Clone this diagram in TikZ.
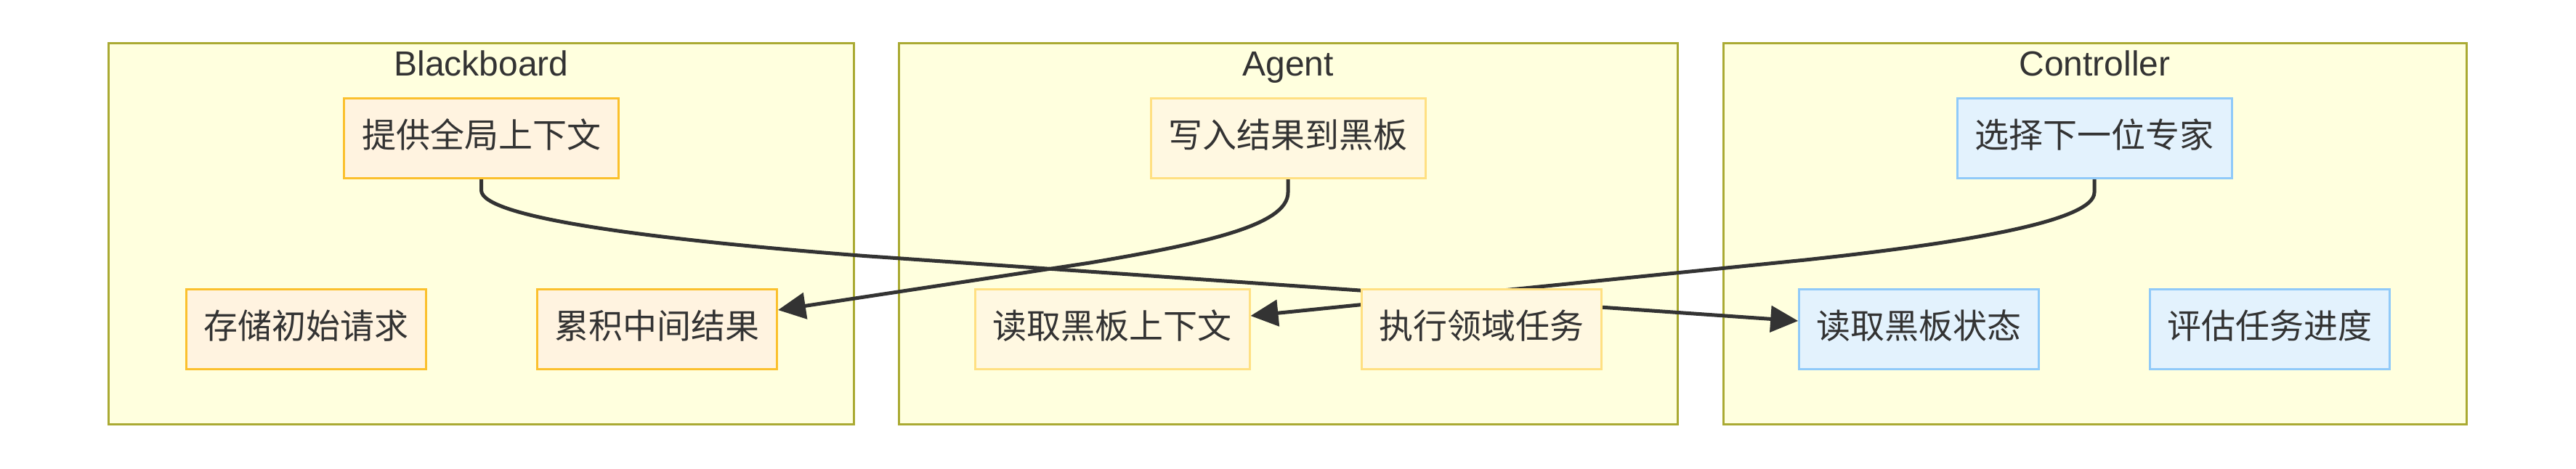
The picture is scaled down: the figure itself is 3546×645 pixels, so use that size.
\documentclass[tikz,border=0pt]{standalone}
\usepackage{fontspec}
\setmainfont{Liberation Sans}
\newfontfamily\cjk{Noto Sans CJK SC}
\usetikzlibrary{arrows.meta}
\pgfdeclarelayer{bg}
\pgfdeclarelayer{edges}
\pgfsetlayers{bg,edges,main}
\definecolor{txt}{HTML}{333333}
\definecolor{frameline}{HTML}{AAAA33}
\definecolor{framefill}{HTML}{FFFFDE}
\definecolor{bbline}{HTML}{FBC02D}
\definecolor{bbfill}{HTML}{FFF3E0}
\definecolor{agline}{HTML}{FFE082}
\definecolor{agfill}{HTML}{FFF8E1}
\definecolor{ctline}{HTML}{90CAF9}
\definecolor{ctfill}{HTML}{E3F2FD}
\begin{document}
\begin{tikzpicture}[x=0.5pt,y=-0.5pt,
  frame/.style={draw=frameline, fill=framefill, line width=1.5pt, minimum width=#1, minimum height=262.4pt, inner sep=0pt},
  title/.style={font=\fontsize{24pt}{28pt}\selectfont, text=txt, inner sep=0pt, anchor=base},
  box/.style={line width=1.5pt, minimum height=55pt, inner sep=0pt, font=\cjk\fontsize{23.5pt}{28pt}\selectfont, text=txt, text height=18pt, text depth=5.14pt},
  wide/.style={minimum width=189pt},
  narrow/.style={minimum width=165pt},
  bbbox/.style={box, draw=bbline, fill=bbfill},
  agbox/.style={box, draw=agline, fill=agfill},
  ctbox/.style={box, draw=ctline, fill=ctfill},
  conn/.style={draw=txt, line width=2.5pt, line join=round, -{Triangle[length=19pt,width=18pt]}}
]
\useasboundingbox (0,0) rectangle (3546,645);
\begin{pgfonlayer}{bg}
  \node[frame=512.6pt] (fbb) at (662.4,322.2) {};
  \node[frame=536pt] (fag) at (1773,322.2) {};
  \node[frame=511.5pt] (fct) at (2883.5,322.2) {};
\end{pgfonlayer}
\node[title] (tbb) at (662.5,104) {Blackboard};
\node[title] (tag) at (1773,104) {Agent};
\node[title] (tct) at (2883.5,104) {Controller};

\node[bbbox, wide]   (bb1) at (662.5,190.5) {提供全局上下文};
\node[bbbox, narrow] (bb2) at (421,453.5) {存储初始请求};
\node[bbbox, narrow] (bb3) at (904.5,453.5) {累积中间结果};

\node[agbox, wide]   (ag1) at (1773,190.5) {写入结果到黑板};
\node[agbox, wide]   (ag2) at (1531,453.5) {读取黑板上下文};
\node[agbox, narrow] (ag3) at (2039,453.5) {执行领域任务};

\node[ctbox, wide]   (ct1) at (2883,190.5) {选择下一位专家};
\node[ctbox, narrow] (ct2) at (2641.7,453.5) {读取黑板状态};
\node[ctbox, narrow] (ct3) at (3124.7,453.5) {评估任务进度};

\begin{pgfonlayer}{edges}
  \draw[conn] (bb1.south) -- (662.5,262) .. controls (662.5,300) and (900,330) .. (1190,352.5) -- ([yshift=5.75pt]ct2.west);
  \draw[conn] (ag1.south) -- (1773,265) .. controls (1773,310) and (1660,335) .. (1500,362) -- ([yshift=13.25pt]bb3.east);
  \draw[conn] (ct1.south) -- (2883,265) .. controls (2883,305) and (2700,335) .. (2485,358) -- ([yshift=9.25pt]ag2.east);
\end{pgfonlayer}
\end{tikzpicture}
\end{document}
